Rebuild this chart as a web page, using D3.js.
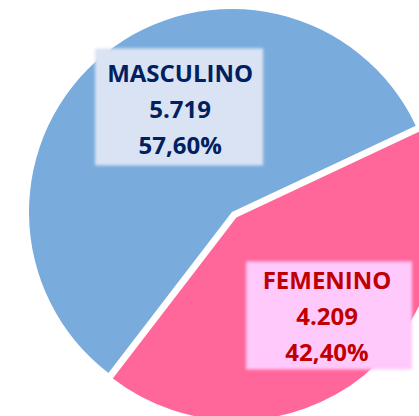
<!DOCTYPE html>
<html lang="es">
<head>
<meta charset="UTF-8">
<title>Masculino / Femenino</title>
<script src="https://d3js.org/d3.v7.min.js"></script>
<style>
  html, body { margin: 0; padding: 0; background: #fff; }
  svg { display: block; }
  text { font-family: "Open Sans", Lato, sans-serif; font-weight: bold; }
</style>
</head>
<body>
<svg id="chart" width="419" height="416"></svg>
<script>
// data
const categories = ["MASCULINO", "FEMENINO"];
const counts = [5719, 4209];
const sliceColors = ["#79acdc", "#ff6699"];
const boxColors = ["#dae3f3", "#ffc9fb"];
const textColors = ["#002060", "#c00000"];

// layout (not data)
const W = 419, H = 416;
const cx = 232, cy = 212, radius = 203;
const startDeg = 217.5;
const explode = [0, 7];
// label anchor = centre of the middle line baseline, polar from pie centre
const labelPolar = [{ a: 331, r: 107 }, { a: 140, r: 141 }];
const labelBox = [
  { x0: -85, x1: 83, y0: -70, y1: 47 },
  { x0: -81, x1: 85, y0: -64, y1: 44 }
];
const lineGap = 36;

const es = d3.formatLocale({ decimal: ",", thousands: ".", grouping: [3], currency: ["", ""] });
const fmtNum = es.format(",");
const fmtPct = es.format(".2%");
const total = d3.sum(counts);

const rows = categories.map((c, i) => ({ cat: c, value: counts[i], i: i }));

const svg = d3.select("#chart");
svg.append("rect").attr("width", W).attr("height", H).attr("fill", "#fff");

const defs = svg.append("defs");
defs.append("filter").attr("id", "soft")
  .attr("x", "-10%").attr("y", "-10%").attr("width", "120%").attr("height", "120%")
  .append("feGaussianBlur").attr("stdDeviation", 1.6);

const rad = d => d * Math.PI / 180;
const pie = d3.pie().sort(null).value(d => d.value)
  .startAngle(rad(startDeg)).endAngle(rad(startDeg) + 2 * Math.PI);
const arc = d3.arc().innerRadius(0).outerRadius(radius);

const arcs = pie(rows);

const g = svg.append("g").attr("transform", `translate(${cx},${cy})`);

function shift(d) {
  const m = (d.startAngle + d.endAngle) / 2;
  const e = explode[d.data.i];
  return [Math.sin(m) * e, -Math.cos(m) * e];
}

g.selectAll("path.slice").data(arcs).join("path")
  .attr("class", "slice")
  .attr("d", arc)
  .attr("fill", d => sliceColors[d.data.i])
  .attr("transform", d => `translate(${shift(d)})`);

const labels = g.selectAll("g.lbl").data(arcs).join("g")
  .attr("class", "lbl")
  .attr("transform", d => {
    const s = shift(d);
    const p = labelPolar[d.data.i];
    const x = s[0] + Math.sin(rad(p.a)) * p.r;
    const y = s[1] - Math.cos(rad(p.a)) * p.r;
    return `translate(${x},${y})`;
  });

labels.append("rect")
  .attr("x", d => labelBox[d.data.i].x0)
  .attr("y", d => labelBox[d.data.i].y0)
  .attr("width", d => labelBox[d.data.i].x1 - labelBox[d.data.i].x0)
  .attr("height", d => labelBox[d.data.i].y1 - labelBox[d.data.i].y0)
  .attr("fill", d => boxColors[d.data.i])
  .attr("filter", "url(#soft)");

labels.each(function(d) {
  const lines = [d.data.cat, fmtNum(d.data.value), fmtPct(d.data.value / total)];
  d3.select(this).selectAll("text").data(lines).join("text")
    .attr("x", 0)
    .attr("y", (t, k) => (k - 1) * lineGap)
    .attr("text-anchor", "middle")
    .attr("font-size", 24)
    .attr("fill", textColors[d.data.i])
    .text(t => t);
});
</script>
</body>
</html>
